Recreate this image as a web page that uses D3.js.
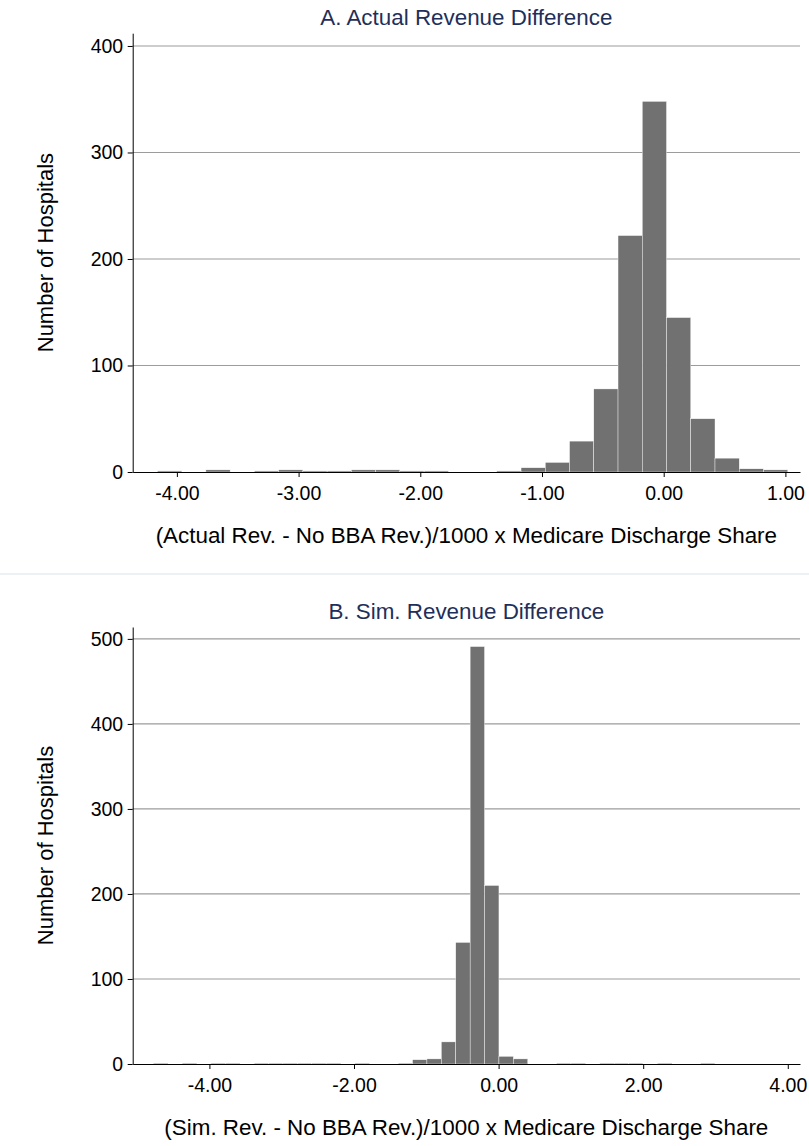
<!DOCTYPE html>
<html>
<head>
<meta charset="utf-8">
<script src="https://cdn.jsdelivr.net/npm/d3@7/dist/d3.min.js"></script>
<style>
  html, body { margin: 0; padding: 0; background: #fff; }
  svg { display: block; }
  text { font-family: "Liberation Sans", Arial, Helvetica, sans-serif; }
</style>
</head>
<body>
<svg id="chart" width="809" height="1146"></svg>
<script>
// Histogram counts of hospitals, one entry per bin (left to right)
const actualCounts = [1, 0, 2, 0, 1, 2, 1, 1, 2, 2, 1, 1, 0, 0, 1, 4, 9, 29, 78, 222, 348, 145, 50, 13, 3, 2];
const actualBinStart = -4.16;
const actualBinWidth = 0.1992;

const simCounts = [1, 0, 1, 0, 1, 1, 0, 1, 1, 1, 1, 1, 1, 0, 1, 0, 0, 1, 5, 6, 26, 143, 491, 210, 9, 6, 0, 0, 1, 1, 0, 1, 1, 1, 0, 1, 0, 0, 1];
const simBinStart = -4.776;
const simBinWidth = 0.1992;

// Axis ticks and labels
const actualXTicks = [-4, -3, -2, -1, 0, 1];
const actualYTicks = [0, 100, 200, 300, 400];
const simXTicks = [-4, -2, 0, 2, 4];
const simYTicks = [0, 100, 200, 300, 400, 500];

const panelTitles = ["A. Actual Revenue Difference", "B. Sim. Revenue Difference"];
const xTitles = [
  "(Actual Rev. - No BBA Rev.)/1000 x Medicare Discharge Share",
  "(Sim. Rev. - No BBA Rev.)/1000 x Medicare Discharge Share"
];
const yTitle = "Number of Hospitals";

const svg = d3.select("#chart");
const BAR = "#717171";
const GRID = "#9c9c9c";
const TITLE = "#1f2f5a";

const fmt = d => d.toFixed(2);

function panel(cfg) {
  const x = d3.scaleLinear().domain(cfg.xDomain).range([cfg.left, cfg.right]);
  const y = d3.scaleLinear().domain(cfg.yDomain).range([cfg.bottom, cfg.top]);
  const g = svg.append("g");

  // horizontal grid lines
  g.append("g").selectAll("line")
    .data(cfg.yTicks.filter(v => v > 0))
    .join("line")
    .attr("x1", cfg.left).attr("x2", cfg.right)
    .attr("y1", d => y(d)).attr("y2", d => y(d))
    .attr("stroke", GRID).attr("stroke-width", 1.2);

  // bars
  const bins = cfg.counts.map((c, i) => ({
    x0: cfg.start + i * cfg.width,
    x1: cfg.start + (i + 1) * cfg.width,
    n: c
  })).filter(b => b.n > 0);

  g.append("g").selectAll("rect")
    .data(bins)
    .join("rect")
    .attr("x", d => x(d.x0))
    .attr("width", d => x(d.x1) - x(d.x0))
    .attr("y", d => y(d.n))
    .attr("height", d => y(0) - y(d.n))
    .attr("fill", BAR)
    .attr("stroke", "#ffffff")
    .attr("stroke-width", 0.4);

  // y axis
  const ya = g.append("g")
    .attr("transform", `translate(${cfg.left},0)`)
    .call(d3.axisLeft(y).tickValues(cfg.yTicks).tickFormat(d3.format("d"))
      .tickSize(5).tickSizeOuter(0).tickPadding(4.5));
  ya.selectAll("text").attr("font-size", 19.5).attr("fill", "#000")
    .attr("font-family", "'Liberation Sans', Arial, sans-serif");
  ya.selectAll("line, path").attr("stroke", "#000");

  // x axis
  const xa = g.append("g")
    .attr("transform", `translate(0,${cfg.bottom})`)
    .call(d3.axisBottom(x).tickValues(cfg.xTicks).tickFormat(fmt)
      .tickSize(5).tickSizeOuter(0).tickPadding(9));
  xa.selectAll("text").attr("font-size", 19.5).attr("fill", "#000")
    .attr("font-family", "'Liberation Sans', Arial, sans-serif");
  xa.selectAll("line, path").attr("stroke", "#000");

  const cx = (cfg.left + cfg.right) / 2;

  // panel title
  g.append("text")
    .attr("x", cx).attr("y", cfg.top - 8)
    .attr("text-anchor", "middle")
    .attr("font-size", 22.4).attr("fill", TITLE)
    .text(cfg.title);

  // x axis title
  g.append("text")
    .attr("x", cx).attr("y", cfg.bottom + 71)
    .attr("text-anchor", "middle")
    .attr("font-size", 22.4).attr("fill", "#000")
    .text(cfg.xTitle);

  // y axis title
  g.append("text")
    .attr("transform", `translate(45,${(cfg.top + cfg.bottom) / 2}) rotate(-90)`)
    .attr("text-anchor", "middle")
    .attr("dominant-baseline", "central")
    .attr("font-size", 22).attr("fill", "#000")
    .text(yTitle);
}

panel({
  counts: actualCounts, start: actualBinStart, width: actualBinWidth,
  xDomain: [-4.363, 1.120], yDomain: [0, 412],
  left: 132.7, right: 800, top: 33.2, bottom: 472,
  xTicks: actualXTicks, yTicks: actualYTicks,
  title: panelTitles[0], xTitle: xTitles[0]
});

// divider between the two panels
svg.append("line")
  .attr("x1", 0).attr("x2", 809).attr("y1", 574).attr("y2", 574)
  .attr("stroke", "#e8ecef").attr("stroke-width", 1.5);

panel({
  counts: simCounts, start: simBinStart, width: simBinWidth,
  xDomain: [-5.061, 4.169], yDomain: [0, 514],
  left: 132.7, right: 800, top: 627, bottom: 1064,
  xTicks: simXTicks, yTicks: simYTicks,
  title: panelTitles[1], xTitle: xTitles[1]
});
</script>
</body>
</html>
